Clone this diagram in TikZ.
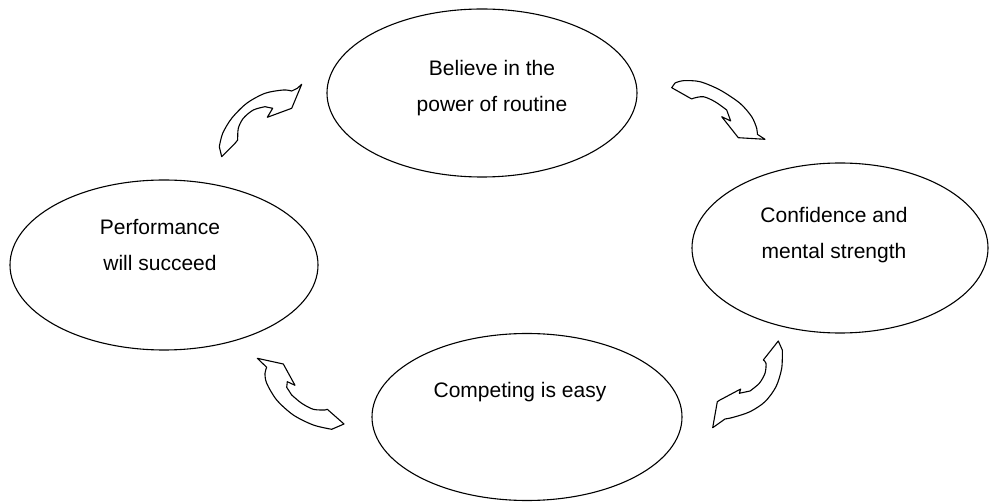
\documentclass[tikz,border=0pt]{standalone}
\usepackage{fontspec}
\setmainfont{Liberation Sans}
\usetikzlibrary{shapes.geometric}
\begin{document}
\begin{tikzpicture}[x=1pt,y=-1pt,
  blob/.style={ellipse,draw=black,line width=1.1pt,inner sep=0pt},
  txt/.style={align=center,font=\fontsize{21}{36}\selectfont,inner sep=0pt},
  curvedarrow/.style={draw=black,fill=white,line width=1.1pt,line join=round}]
\useasboundingbox (0,0) rectangle (991,502);

% the four stages of the cycle
\node[blob,minimum width=310pt,minimum height=168pt] (routine) at (482,93) {};
\node[blob,minimum width=296pt,minimum height=170pt] (confidence) at (840,248) {};
\node[blob,minimum width=310pt,minimum height=167pt] (competing) at (527,417) {};
\node[blob,minimum width=308pt,minimum height=170pt] (performance) at (164,265) {};

\node[txt] (routinetext) at (492,88) {Believe in the\\power of routine};
\node[txt] (confidencetext) at (834,235) {Confidence and\\mental strength};
\node[txt] (competingtext) at (520,392) {Competing is easy};
\node[txt] (performancetext) at (160,245) {Performance\\will succeed};

% curved block arrows running clockwise between the stages
\draw[curvedarrow] (221.7,156.7) -- plot[smooth] coordinates {(219.3,146.7) (222.7,133.3) (231.7,118.3) (246.7,103.3) (265,93.3) (283.3,90) (291.7,91)}
  -- (297.3,88.3) -- (301.7,84.3) -- (291.7,108.3) -- (267.3,117.3) -- (272.7,108.3)
  -- plot[smooth] coordinates {(265,106.7) (253.3,110) (243.3,118.3) (238.3,128.3) (237.7,140)}
  -- (235,143.3) -- cycle;

\draw[curvedarrow] (691.7,99) -- (671.7,87.7)
  -- plot[smooth] coordinates {(675,83) (683.3,80.7) (700,81.7) (720,90) (740,103.3) (751.7,116.7) (756.7,128.3) (757.3,134.3)}
  -- (765,139.3) -- (738.3,137.7) -- (721.7,116.7) -- (730.7,121)
  -- plot[smooth] coordinates {(726.7,110) (715,101.7) (703.3,96.7) (693.3,98.3)} -- cycle;

\draw[curvedarrow] (778.3,341)
  -- plot[smooth] coordinates {(782.3,350) (781.7,368.3) (776,386.7) (765,401.7) (750,411.7) (733.3,417.3) (725,419)}
  -- (712.7,427.7) -- (717.3,401.7) -- (720,400) -- (740.7,389) -- (739.3,393.3)
  -- plot[smooth] coordinates {(750,391) (759.3,383.3) (765,373.3) (766,363.3) (763.3,360)} -- cycle;

\draw[curvedarrow] (257.3,358.3) -- (283.3,364) -- (295,385.3) -- (287.3,381.7) -- (286.7,387.3)
  -- plot[smooth] coordinates {(291.7,395) (301.7,403.3) (313.3,409.3) (325,410)}
  -- (327.3,409.3) -- (344,424)
  -- plot[smooth] coordinates {(331.7,429.3) (313.3,425) (293.3,415) (276.7,400) (266.7,383.3) (265,373.3) (266.7,367.3)} -- cycle;
\end{tikzpicture}
\end{document}
